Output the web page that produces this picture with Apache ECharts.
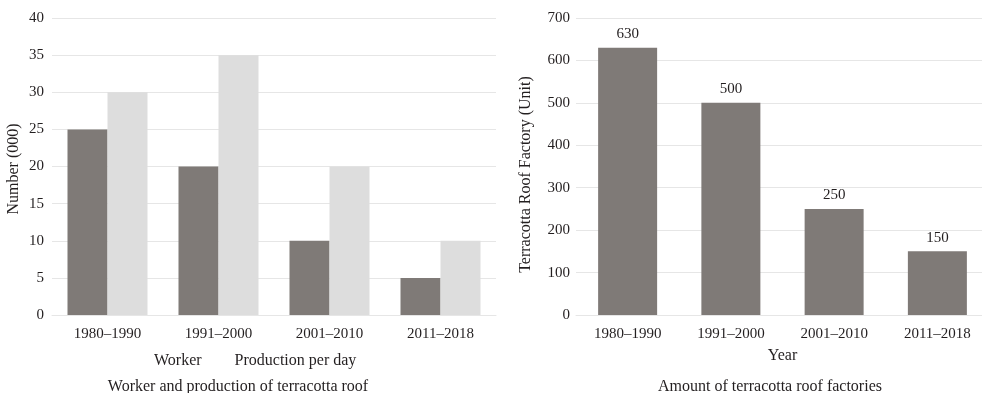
<!DOCTYPE html>
<html><head><meta charset="utf-8">
<script src="https://cdn.jsdelivr.net/npm/echarts@6/dist/echarts.min.js"></script>
<style>html,body{margin:0;padding:0;background:#fff}#c{width:982px;height:393px}</style>
</head><body><div id="c"></div>
<script>
const categories = ['1980–1990','1991–2000','2001–2010','2011–2018'];
const workers = [25, 20, 10, 5];
const production = [30, 35, 20, 10];
const factories = [630, 500, 250, 150];
const leftTicks = {min:0, max:40, interval:5};
const rightTicks = {min:0, max:700, interval:100};

const FONT = '"Liberation Serif", "DejaVu Serif", serif';
const TXT = '#231f20';
const DARK = '#7f7a77';
const LIGHT = '#dddddd';
const GRIDC = '#e6e6e6';

const chart = echarts.init(document.getElementById('c'), null, {renderer:'canvas'});
const axisLabel = {color: TXT, fontFamily: FONT, fontSize: 15};
chart.setOption({
  animation: false,
  textStyle: {fontFamily: FONT, color: TXT},
  title: [
    {text: 'Worker and production of terracotta roof', left: 233, top: 374, textAlign: 'center',
     textStyle: {fontFamily: FONT, fontSize: 16, fontWeight: 'normal', color: TXT}},
    {text: 'Amount of terracotta roof factories', left: 765, top: 374, textAlign: 'center',
     textStyle: {fontFamily: FONT, fontSize: 16, fontWeight: 'normal', color: TXT}}
  ],
  legend: {
    data: ['Worker', 'Production per day'], left: 144, top: 348,
    itemWidth: 0, itemHeight: 0, itemGap: 28, icon: 'rect',
    textStyle: {fontFamily: FONT, fontSize: 16, color: TXT}
  },
  grid: [
    {left: 52, width: 444, top: 18, bottom: 78, outerBoundsMode: 'none'},
    {left: 576, width: 413, top: 18, bottom: 78, outerBoundsMode: 'none'}
  ],
  xAxis: [
    {type: 'category', gridIndex: 0, data: categories,
     axisLine: {lineStyle: {color: GRIDC}}, axisTick: {show: false},
     axisLabel: Object.assign({margin: 12}, axisLabel)},
    {type: 'category', gridIndex: 1, data: categories,
     name: 'Year', nameLocation: 'middle', nameGap: 33,
     nameTextStyle: {fontFamily: FONT, fontSize: 16, color: TXT},
     axisLine: {lineStyle: {color: GRIDC}}, axisTick: {show: false},
     axisLabel: Object.assign({margin: 12}, axisLabel)}
  ],
  yAxis: [
    {type: 'value', gridIndex: 0, min: leftTicks.min, max: leftTicks.max, interval: leftTicks.interval,
     name: 'Number (000)', nameLocation: 'middle', nameGap: 30,
     nameTextStyle: {fontFamily: FONT, fontSize: 16, color: TXT, padding: [0, 5, 0, 0]},
     axisLine: {show: false}, axisTick: {show: false},
     splitLine: {lineStyle: {color: GRIDC}},
     axisLabel: Object.assign({margin: 8}, axisLabel)},
    {type: 'value', gridIndex: 1, min: rightTicks.min, max: rightTicks.max, interval: rightTicks.interval,
     name: 'Terracotta Roof Factory (Unit)', nameLocation: 'middle', nameGap: 42,
     nameTextStyle: {fontFamily: FONT, fontSize: 16, color: TXT, padding: [0, 16, 0, 0]},
     axisLine: {show: false}, axisTick: {show: false},
     splitLine: {lineStyle: {color: GRIDC}},
     axisLabel: Object.assign({margin: 6}, axisLabel)}
  ],
  series: [
    {name: 'Worker', type: 'bar', xAxisIndex: 0, yAxisIndex: 0, data: workers,
     barWidth: 40, barGap: '0%', itemStyle: {color: DARK}},
    {name: 'Production per day', type: 'bar', xAxisIndex: 0, yAxisIndex: 0, data: production,
     barWidth: 40, barGap: '0%', itemStyle: {color: LIGHT}},
    {name: 'Factories', type: 'bar', xAxisIndex: 1, yAxisIndex: 1, data: factories,
     barWidth: 59, itemStyle: {color: DARK},
     label: {show: true, position: 'top', distance: 6, fontFamily: FONT, fontSize: 15, color: TXT}}
  ]
});
</script></body></html>
